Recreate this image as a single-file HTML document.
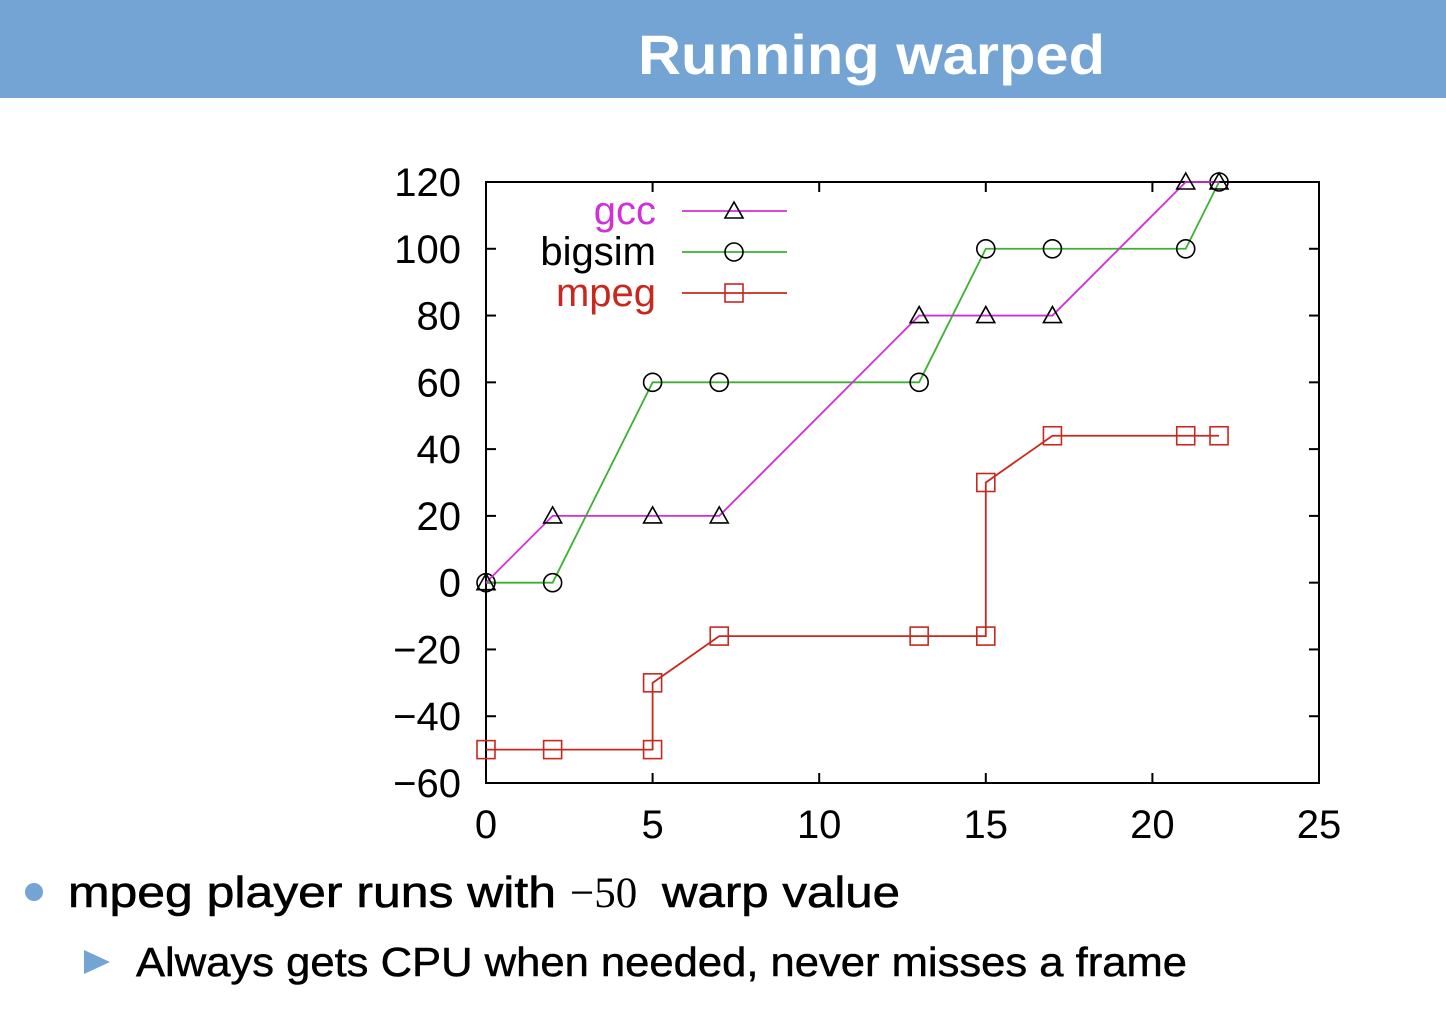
<!DOCTYPE html>
<html><head><meta charset="utf-8"><style>
html,body{margin:0;padding:0;background:#fff;}
svg{display:block;font-family:"Liberation Sans",sans-serif;}
</style></head><body>
<svg id="c" width="1446" height="1032" viewBox="0 0 1446 1032">
<rect x="0" y="0" width="1446" height="98" fill="#73a4d4"/>
<text x="638" y="74" font-size="56" font-weight="bold" fill="#fff" textLength="467" lengthAdjust="spacingAndGlyphs">Running warped</text>
<g id="plot"></g>
<circle cx="34" cy="892" r="9" fill="#73a4d4"/>
<text x="68" y="907" font-size="44" fill="#000" stroke="#000" stroke-width="0.6" textLength="488" lengthAdjust="spacingAndGlyphs">mpeg player runs with</text>
<text x="570" y="907" font-size="43" font-family="Liberation Serif,serif" fill="#000">−50</text>
<text x="662" y="907" font-size="44" fill="#000" stroke="#000" stroke-width="0.6" textLength="238" lengthAdjust="spacingAndGlyphs">warp value</text>
<polygon points="84,950 110,962 84,974" fill="#73a4d4"/>
<text x="136" y="976" font-size="41" fill="#000" stroke="#000" stroke-width="0.5" textLength="1051" lengthAdjust="spacingAndGlyphs">Always gets CPU when needed, never misses a frame</text>
</svg>
<script>
const xs = [0,2,5,7,13,15,17,21,22];
const gccY = [0,20,20,20,80,80,80,120,120];
const bigsimY = [0,0,60,60,60,100,100,100,120];
const mpegX = [0,2,5,5,7,13,15,15,17,21,22];
const mpegY = [-50,-50,-50,-30,-16,-16,-16,30,44,44,44];
const xTicks = [0,5,10,15,20,25];
const yTicks = [-60,-40,-20,0,20,40,60,80,100,120];
const X0=486,X1=1319,Y0=783,Y1=182;
const sx=v=>X0+(v-0)/25*(X1-X0);
const sy=v=>Y0-(v+60)/180*(Y0-Y1);
const NS="http://www.w3.org/2000/svg";
const g=document.getElementById('plot');
function mk(t,a,p){const e=document.createElementNS(NS,t);for(const k in a)e.setAttribute(k,a[k]);(p||g).appendChild(e);return e;}
const frame=mk('rect',{x:X0,y:Y1,width:X1-X0,height:Y0-Y1,fill:'none',stroke:'#000','stroke-width':2});


xTicks.forEach(v=>{
  const x=sx(v);
  const t1=mk('line',{x1:x,y1:Y0,x2:x,y2:Y0-10,stroke:'#000','stroke-width':2});
  
  
  const t2=mk('line',{x1:x,y1:Y1,x2:x,y2:Y1+10,stroke:'#000','stroke-width':2});
  
  
  const l=mk('text',{x:x,y:838,'font-size':40,'text-anchor':'middle'});
  l.textContent=v;
  
  
});
yTicks.forEach(v=>{
  const y=sy(v);
  const t1=mk('line',{x1:X0,y1:y,x2:X0+10,y2:y,stroke:'#000','stroke-width':2});
  
  
  const t2=mk('line',{x1:X1,y1:y,x2:X1-10,y2:y,stroke:'#000','stroke-width':2});
  
  
  const l=mk('text',{x:461,y:y+14,'font-size':40,'text-anchor':'end'});
  l.textContent=v<0?'−'+(-v):v;
  
  
});
function marker(type,x,y,col){
  let e;
  if(type==='tri') e=mk('polygon',{points:`${x},${y-9} ${x-9},${y+7} ${x+9},${y+7}`,fill:'none',stroke:'#000','stroke-width':1.6});
  else if(type==='circ') e=mk('circle',{cx:x,cy:y,r:9,fill:'none',stroke:'#000','stroke-width':1.6});
  else e=mk('rect',{x:x-9,y:y-9,width:18,height:18,fill:'none',stroke:col,'stroke-width':1.6});
  return e;
}
function series(name,xv,yv,col,type){
  const pts=xv.map((v,i)=>sx(v)+','+sy(yv[i])).join(' ');
  const pl=mk('polyline',{points:pts,fill:'none',stroke:col,'stroke-width':1.8});
  
  
  xv.forEach((v,i)=>{
    const m=marker(type,sx(v),sy(yv[i]),col);
    
    
  });
}
series('mpeg',mpegX,mpegY,'#c8281e','sq');
series('bigsim',xs,bigsimY,'#3cb030','circ');
series('gcc',xs,gccY,'#d030d8','tri');
const leg=[['gcc','#d030d8','#d030d8','tri',211],['bigsim','#000','#3cb030','circ',252],['mpeg','#c8281e','#c8281e','sq',293]];
leg.forEach(([n,tc,lc,t,y])=>{
  const tx=mk('text',{x:656,y:y+13,'font-size':40,'text-anchor':'end',fill:tc});
  tx.textContent=n;
  
  
  const ln=mk('line',{x1:682,y1:y,x2:787,y2:y,stroke:lc,'stroke-width':1.8});
  
  
  const m=marker(t,734,y,lc);
  
  
});
</script>
</body></html>
